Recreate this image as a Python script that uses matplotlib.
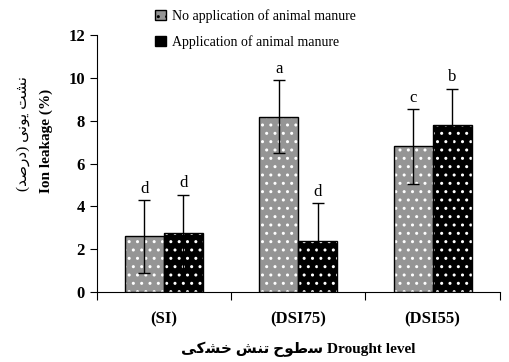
import matplotlib
matplotlib.use("Agg")
import matplotlib.pyplot as plt
from matplotlib.patches import Patch
import numpy as np

plt.rcParams['font.family'] = ['Liberation Serif', 'DejaVu Sans']

categories = ["(SI)", "(DSI75)", "(DSI55)"]
no_manure = [2.6, 8.2, 6.8]
no_manure_err = [1.7, 1.7, 1.75]
manure = [2.75, 2.4, 7.8]
manure_err = [1.8, 1.75, 1.7]
letters_no = ["d", "a", "c"]
letters_yes = ["d", "d", "b"]

# pre-shaped Persian text (presentation forms, visual order)
ylabel_fa = "(\ufeaa\ufebb\ufead\ufea9) \ufbfd\ufee7\ufeee\ufbfe \ufe96\ufeb8\ufee7"
xlabel_fa = "\ufbfd\ufb90\ufeb8\ufea7 \ufeb6\ufee8\ufe97 \ufea1\ufeee\ufec3\ufeb3"

fig = plt.figure(figsize=(5.09, 3.62), dpi=100)
ax = fig.add_axes([0.19, 0.193, 0.792, 0.71])

x = np.arange(len(categories)) + 0.5
w = 0.29
gray = "#959595"

# fills with white dotted hatches, then black outlines
ax.bar(x - w / 2, no_manure, w, color=gray, edgecolor="white", hatch="..", lw=0)
ax.bar(x + w / 2, manure, w, color="black", edgecolor="white", hatch="..", lw=0)
ax.bar(x - w / 2, no_manure, w, fill=False, edgecolor="black", lw=1)
ax.bar(x + w / 2, manure, w, fill=False, edgecolor="black", lw=1)
ax.errorbar(x - w / 2, no_manure, yerr=no_manure_err, fmt="none", ecolor="black",
            elinewidth=1, capsize=4)
ax.errorbar(x + w / 2, manure, yerr=manure_err, fmt="none", ecolor="black",
            elinewidth=1, capsize=4)

for i in range(len(categories)):
    ax.text(x[i] - w / 2, no_manure[i] + no_manure_err[i] + 0.15, letters_no[i],
            ha="center", va="bottom", fontsize=12)
    ax.text(x[i] + w / 2, manure[i] + manure_err[i] + 0.15, letters_yes[i],
            ha="center", va="bottom", fontsize=12)

ax.set_xlim(0, 3)
ax.set_ylim(0, 12)
ax.set_yticks(range(0, 13, 2))
ax.set_xticks([0, 1, 2, 3])
ax.set_xticklabels([])
ax.set_xticks(x, minor=True)
ax.set_xticklabels(categories, minor=True, fontsize=12, fontweight="bold")
ax.tick_params(axis="x", which="minor", length=0, pad=14)
ax.tick_params(axis="x", which="major", length=6, direction="out")
ax.tick_params(axis="y", length=5, direction="out")
for lab in ax.get_yticklabels():
    lab.set_fontsize(12)
    lab.set_fontweight("bold")
for s in ["top", "right"]:
    ax.spines[s].set_visible(False)

ax.set_xlabel(xlabel_fa + " Drought level", fontsize=11, fontweight="bold", labelpad=10)
fig.text(0.045, 0.63, ylabel_fa, rotation=90, ha="center", va="center", fontsize=11)
fig.text(0.09, 0.61, "Ion leakage (%)", rotation=90, ha="center", va="center",
         fontsize=11, fontweight="bold")

h1 = Patch(facecolor=gray, edgecolor="black", hatch="..")
h2 = Patch(facecolor="black", edgecolor="black", hatch="..")
fig.legend([h1, h2], ["No application of animal manure", "Application of animal manure"],
           loc="upper left", bbox_to_anchor=(0.28, 1.01), frameon=False, fontsize=10,
           handlelength=0.8, handleheight=0.8, handletextpad=0.4, labelspacing=0.9)

fig.savefig("out.png", dpi=100)
